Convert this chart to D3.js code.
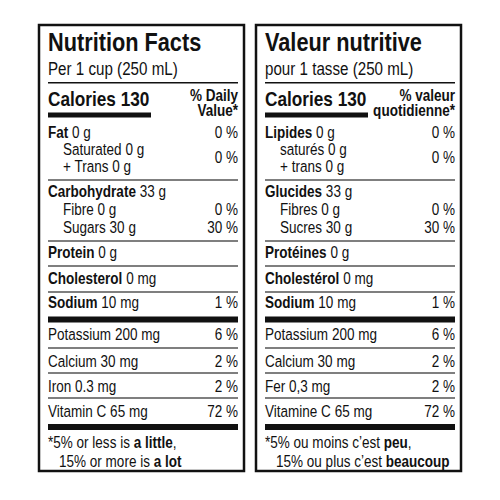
<!DOCTYPE html>
<html><head><meta charset="utf-8">
<script src="https://cdn.jsdelivr.net/npm/d3@7"></script>
<style>body{margin:0;background:#fff}text{font-family:"Liberation Sans Narrow","Arial Narrow","Liberation Sans",sans-serif;fill:#111}</style>
</head><body><svg id="c" width="500" height="500"></svg>
<script>
// two label panels: English and French
const titles = ["Nutrition Facts", "Valeur nutritive"];
const servings = ["Per 1 cup (250 mL)", "pour 1 tasse (250 mL)"];
const calories = ["Calories 130", "Calories 130"];
const dvHeads = [["% Daily", "Value*"], ["% valeur", "quotidienne*"]];
// [bold part, normal part, percent, indent]
const rowsEn = [
  ["Fat", " 0 g", "0 %", 0], ["", "Saturated 0 g", "", 1], ["", "+ Trans 0 g", "", 1],
  ["Carbohydrate", " 33 g", "", 0], ["", "Fibre 0 g", "0 %", 1], ["", "Sugars 30 g", "30 %", 1],
  ["Protein", " 0 g", "", 0], ["Cholesterol", " 0 mg", "", 0], ["Sodium", " 10 mg", "1 %", 0],
  ["", "Potassium 200 mg", "6 %", 0], ["", "Calcium 30 mg", "2 %", 0],
  ["", "Iron 0.3 mg", "2 %", 0], ["", "Vitamin C 65 mg", "72 %", 0]
];
const rowsFr = [
  ["Lipides", " 0 g", "0 %", 0], ["", "saturés 0 g", "", 1], ["", "+ trans 0 g", "", 1],
  ["Glucides", " 33 g", "", 0], ["", "Fibres 0 g", "0 %", 1], ["", "Sucres 30 g", "30 %", 1],
  ["Protéines", " 0 g", "", 0], ["Cholestérol", " 0 mg", "", 0], ["Sodium", " 10 mg", "1 %", 0],
  ["", "Potassium 200 mg", "6 %", 0], ["", "Calcium 30 mg", "2 %", 0],
  ["", "Fer 0,3 mg", "2 %", 0], ["", "Vitamine C 65 mg", "72 %", 0]
];
const rowY = [138, 155, 172, 197, 215, 233, 258, 284, 308, 340, 367, 392, 417];
const satPctY = 163;
const thinRules = [180, 241, 266, 292, 348, 373, 398];
const thickRules = [319.5, 427];
const footnotes = [
  [["*", ""], ["5% or less is ", ""], ["a little", "b"], [",", ""]],
  [["*", ""], ["5% ou moins c’est ", ""], ["peu", "b"], [",", ""]]
];
const footnotes2 = [
  [["15% or more is ", ""], ["a lot", "b"]],
  [["15% ou plus c’est ", ""], ["beaucoup", "b"]]
];

const svg = d3.select("#c");
const panelX = d3.scaleOrdinal().domain([0, 1]).range([39, 256]);
const W = 205;
const SX = 0.82; // condensed look

function txt(g, x, y, size, anchor) {
  return g.append("text").attr("transform", `translate(${x},${y}) scale(${SX},1)`)
    .attr("font-size", size).attr("text-anchor", anchor || "start");
}

[rowsEn, rowsFr].forEach((rows, p) => {
  const g = svg.append("g").attr("transform", `translate(${panelX(p)},0)`);
  g.append("rect").attr("x", 0).attr("y", 25).attr("width", W).attr("height", 446)
    .attr("fill", "none").attr("stroke", "#111").attr("stroke-width", 2.5);
  const L = 9, R = W - 6;
  txt(g, L, 51, 26.5).attr("font-weight", "bold").text(titles[p]);
  txt(g, L, 75, 18.5).text(servings[p]);
  g.append("rect").attr("x", L).attr("y", 82).attr("width", R - L).attr("height", 1.5).attr("fill", "#111");
  txt(g, L, 106, 21).attr("font-weight", "bold").text(calories[p]);
  g.append("rect").attr("x", L).attr("y", 112.5).attr("width", 103).attr("height", 5).attr("fill", "#111");
  dvHeads[p].forEach((t, i) => txt(g, R, 101 + i * 15, 16.5, "end").attr("font-weight", "bold").text(t));
  thinRules.forEach(y => g.append("rect").attr("x", L).attr("y", y - 0.75).attr("width", R - L).attr("height", 1.5).attr("fill", "#555"));
  thickRules.forEach(y => g.append("rect").attr("x", L).attr("y", y - 3).attr("width", R - L).attr("height", 6).attr("fill", "#111"));
  rows.forEach((r, i) => {
    const t = txt(g, L + r[3] * 15, rowY[i], 16.5);
    if (r[0]) t.append("tspan").attr("font-weight", "bold").text(r[0]);
    t.append("tspan").text(r[1]);
    let pct = r[2], py = rowY[i];
    if (i === 1) { pct = "0 %"; py = satPctY; }
    if (pct) txt(g, R, py, 16.5, "end").text(pct);
  });
  [footnotes[p], footnotes2[p]].forEach((parts, i) => {
    const t = txt(g, L + (i ? 11 : 0), 448 + i * 19, 16.5);
    parts.forEach(([s, b]) => t.append("tspan").attr("font-weight", b ? "bold" : null).text(s));
  });
});
</script></body></html>
